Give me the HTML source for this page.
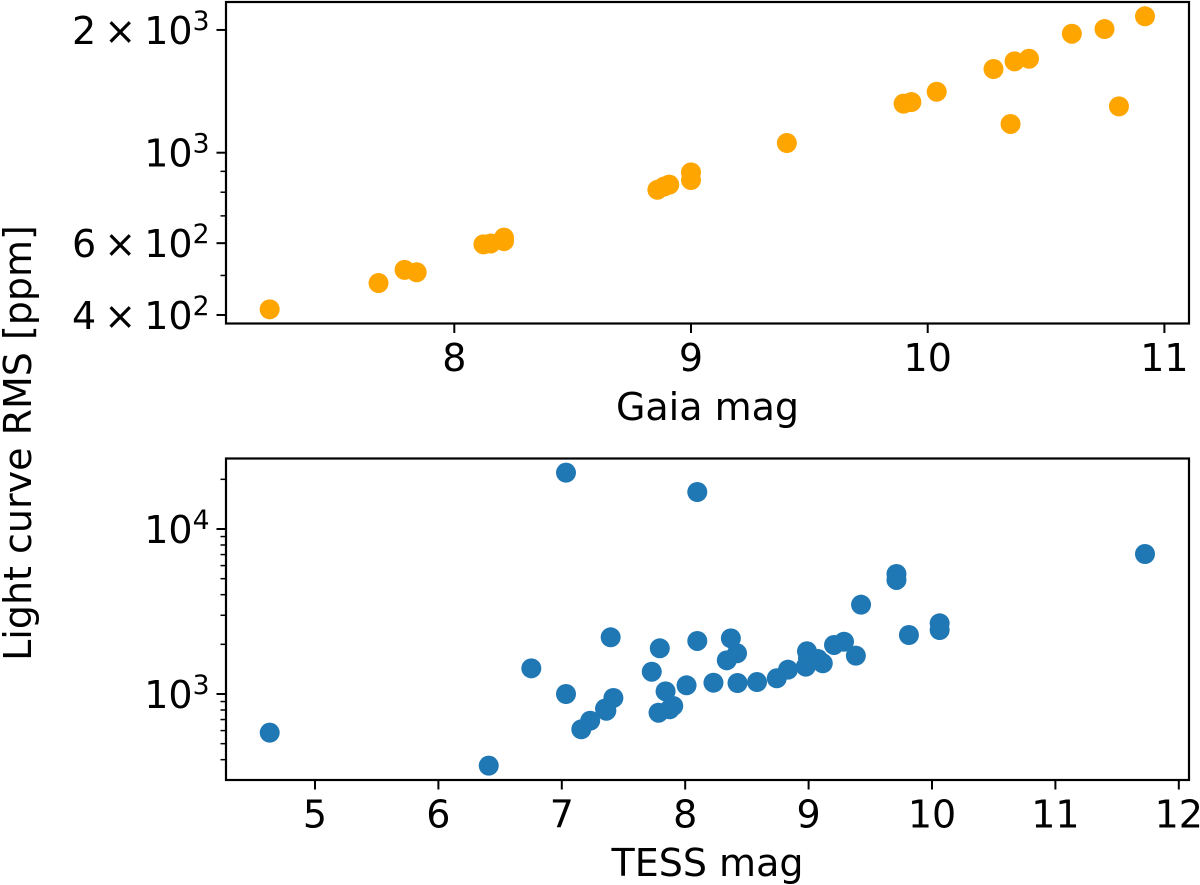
<!DOCTYPE html>
<html lang="en">
<head>
<meta charset="utf-8">
<title>Light curve RMS vs magnitude</title>
<style>
  html, body { margin: 0; padding: 0; background: #fff; }
  svg { display: block; font-family: "DejaVu Sans", "Liberation Sans", sans-serif; fill: #000; }
</style>
</head>
<body>
<svg id="chart" width="1200" height="885" viewBox="0 0 1200 885" xmlns="http://www.w3.org/2000/svg"></svg>
<script>
// Top panel data
const gaiaMag = [7.22, 7.68, 7.79, 7.841, 8.123, 8.154, 8.21, 8.21, 8.858, 8.886, 8.908, 9.0, 9.0, 9.405, 9.898, 9.931, 10.038, 10.278, 10.367, 10.428, 10.35, 10.609, 10.747, 10.808, 10.918];
const gaiaRms = [413, 479, 516, 509, 596, 599, 619, 607, 811, 826, 835, 895, 857, 1056, 1319, 1331, 1411, 1604, 1675, 1700, 1176, 1958, 2010, 1299, 2160];
const gaiaXTicks = [8, 9, 10, 11];
const gaiaYMajor = [400, 600, 1000, 2000];
const gaiaYLabels = [["4 × 10", "2"], ["6 × 10", "2"], ["10", "3"], ["2 × 10", "3"]];
const gaiaYMinor = [500, 700, 800, 900];

// Bottom panel data
const tessMag = [7.034, 8.098, 11.726, 9.712, 9.712, 9.425, 10.062, 10.062, 9.813, 7.396, 8.098, 8.37, 7.794, 8.42, 8.337, 8.987, 9.287, 9.206, 9.383, 9.075, 9.115, 8.977, 8.995, 8.833, 8.742, 8.582, 8.424, 8.229, 8.011, 7.729, 6.753, 7.034, 7.418, 7.361, 7.35, 7.23, 7.158, 7.841, 7.903, 7.874, 7.784, 4.633, 6.408];
const tessRms = [21950, 16760, 7055, 5337, 4909, 3478, 2682, 2443, 2278, 2206, 2096, 2175, 1892, 1765, 1600, 1815, 2075, 1982, 1707, 1630, 1535, 1464, 1653, 1404, 1245, 1182, 1166, 1171, 1129, 1365, 1431, 1000, 946, 792, 815, 689, 611, 1038, 846, 808, 770, 583, 368];
const tessXTicks = [5, 6, 7, 8, 9, 10, 11, 12];
const tessYMajor = [1000, 10000];
const tessYLabels = [["10", "3"], ["10", "4"]];
const tessYMinor = [400, 500, 600, 700, 800, 900, 2000, 3000, 4000, 5000, 6000, 7000, 8000, 9000, 20000];

const NS = "http://www.w3.org/2000/svg";
const svg = document.getElementById("chart");
const FONT = 38;

function mk(tag, attrs, parent) {
  const el = document.createElementNS(NS, tag);
  for (const k in attrs) el.setAttribute(k, attrs[k]);
  (parent || svg).appendChild(el);
  return el;
}

// Axis functions
const xTop = v => 454.3 + (v - 8) * 236.7;
const yTop = v => 152.7 - (Math.log10(v) - 3) * 407.8;
const xBot = v => 315 + (v - 5) * 123.4;
const yBot = v => 694 - (Math.log10(v) - 3) * 165;

function drawPanel(cfg) {
  const g = mk("g", {});
  
  

  // points
  cfg.xs.forEach((v, i) => {
    const c = mk("circle", { cx: cfg.x(v), cy: cfg.y(cfg.ys[i]), r: 10, fill: cfg.color }, g);
    
    
  });

  // frame
  const frame = mk("rect", { x: 226, y: cfg.top, width: 963, height: cfg.bottom - cfg.top, fill: "none", stroke: "#000", "stroke-width": 2.2 }, g);
  
  

  // x ticks
  cfg.xTicks.forEach(v => {
    const px = cfg.x(v);
    const t = mk("line", { x1: px, x2: px, y1: cfg.bottom, y2: cfg.bottom + 9.5, stroke: "#000", "stroke-width": 2 }, g);
    
    
    const lab = mk("text", { x: px, y: cfg.bottom + 47.5, "text-anchor": "middle", "font-size": FONT }, g);
    lab.textContent = String(v);
    
    
  });

  // y major ticks
  cfg.yMajor.forEach((v, i) => {
    const py = cfg.y(v);
    const t = mk("line", { x1: 216.5, x2: 226, y1: py, y2: py, stroke: "#000", "stroke-width": 2 }, g);
    
    
    const lab = mk("text", { x: 209.5, y: py + 14, "text-anchor": "end", "font-size": FONT, "word-spacing": "-4px" }, g);
    
    
    const base = mk("tspan", {}, lab);
    base.textContent = cfg.yLabels[i][0];
    const sup = mk("tspan", { dy: -14, "font-size": FONT * 0.7 }, lab);
    sup.textContent = cfg.yLabels[i][1];
  });

  // y minor ticks
  cfg.yMinor.forEach(v => {
    const py = cfg.y(v);
    const t = mk("line", { x1: 220.5, x2: 226, y1: py, y2: py, stroke: "#000", "stroke-width": 1.5 }, g);
    
    
  });

  // x title
  const title = mk("text", { x: 707.5, y: cfg.titleY, "text-anchor": "middle", "font-size": FONT }, g);
  title.textContent = cfg.title;
  
  
}

drawPanel({
  name: "gaia-panel", xs: gaiaMag, ys: gaiaRms, x: xTop, y: yTop, color: "#ffa500",
  top: 2, bottom: 323.5, xTicks: gaiaXTicks, yMajor: gaiaYMajor, yLabels: gaiaYLabels, yMinor: gaiaYMinor,
  title: "Gaia mag", titleY: 420
});
drawPanel({
  name: "tess-panel", xs: tessMag, ys: tessRms, x: xBot, y: yBot, color: "#1f77b4",
  top: 458.5, bottom: 780, xTicks: tessXTicks, yMajor: tessYMajor, yLabels: tessYLabels, yMinor: tessYMinor,
  title: "TESS mag", titleY: 876
});

const yTitle = mk("text", { transform: "translate(31 443) rotate(-90)", "text-anchor": "middle", "font-size": FONT });
yTitle.textContent = "Light curve RMS [ppm]";


</script>
</body>
</html>
